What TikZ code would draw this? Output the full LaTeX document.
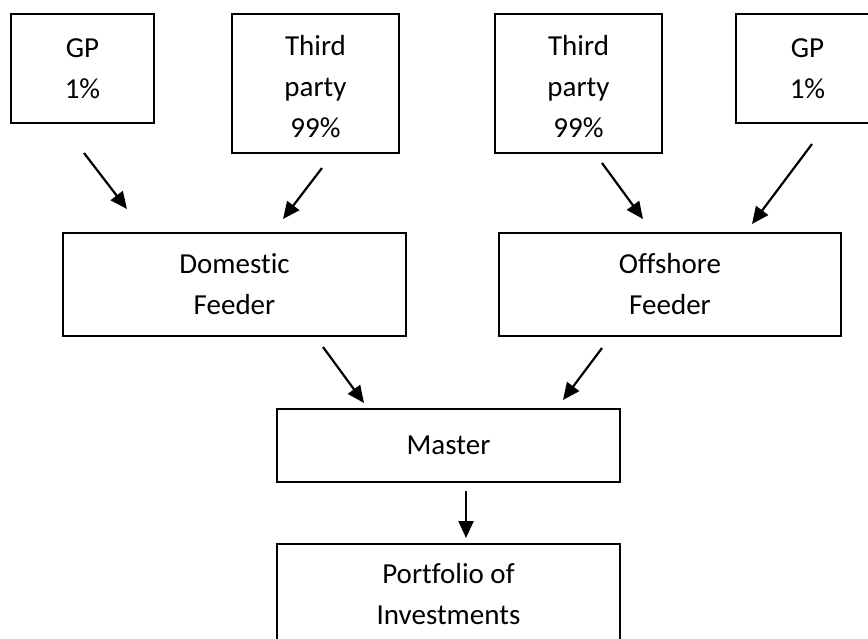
\documentclass[tikz,border=0pt]{standalone}
\usepackage{fontspec}
\setmainfont[Ligatures=NoCommon]{Carlito}
\usetikzlibrary{arrows.meta}
\begin{document}
\begin{tikzpicture}[x=1pt,y=-1pt,
  box/.style={draw=black, line width=1.8pt, rectangle, inner sep=0pt, align=center,
    font=\fontsize{29}{41}\selectfont},
  conn/.style={line width=2.2pt, -{Triangle[length=17pt,width=15pt]}}]
\useasboundingbox (0,0) rectangle (868,638);
\clip (0,0) rectangle (868,638);
\fill[white] (0,0) rectangle (868,638);
% top row
\node[box, minimum width=143pt, minimum height=109pt] (gpL) at (82.5,68.5) {GP\\1\%};
\node[box, minimum width=167pt, minimum height=139pt] (tpL) at (315.5,83.5) {\rule{0pt}{26pt}Third\\party\\99\%};
\node[box, minimum width=167pt, minimum height=139pt] (tpR) at (578.5,83.5) {\rule{0pt}{26pt}Third\\party\\99\%};
\node[box, minimum width=143pt, minimum height=109pt] (gpR) at (807.5,68.5) {GP\\1\%};
% feeders
\node[box, minimum width=343pt, minimum height=103pt] (dom) at (234.5,284.5) {Domestic\\Feeder};
\node[box, minimum width=342pt, minimum height=103pt] (off) at (670,284.5) {Offshore\\Feeder};
% master
\node[box, minimum width=343pt, minimum height=73pt] (master) at (448.5,445.5) {Master};
\node[box, minimum width=343pt, minimum height=100pt] (port) at (448.5,594) {Portfolio of\\Investments};
% arrow end points
\coordinate (a1s) at (84,153);  \coordinate (a1e) at (127,209);
\coordinate (a2s) at (322,168); \coordinate (a2e) at (283,219);
\coordinate (a3s) at (602,163); \coordinate (a3e) at (643,219);
\coordinate (a4s) at (812,144); \coordinate (a4e) at (752,224);
\coordinate (a5s) at (323,347); \coordinate (a5e) at (364,403);
\coordinate (a6s) at (602,348); \coordinate (a6e) at (563,400);
\coordinate (a7s) at (466,491); \coordinate (a7e) at (466,538);
\draw[conn] (a1s) -- (a1e);
\draw[conn] (a2s) -- (a2e);
\draw[conn] (a3s) -- (a3e);
\draw[conn] (a4s) -- (a4e);
\draw[conn] (a5s) -- (a5e);
\draw[conn] (a6s) -- (a6e);
\draw[conn] (a7s) -- (a7e);
\end{tikzpicture}
\end{document}
